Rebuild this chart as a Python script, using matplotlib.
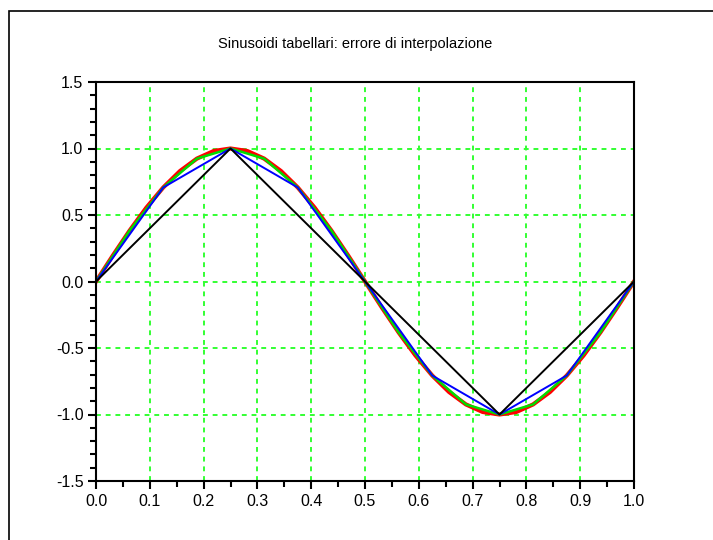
import numpy as np
import matplotlib.pyplot as plt
from matplotlib.patches import Rectangle
from matplotlib.ticker import MultipleLocator

plt.rcParams['font.family'] = ['Liberation Sans', 'DejaVu Sans']

# Tabelle di seno con 4, 8, 16 e 32 campioni per periodo
tab4 = [0.0, 1.0, 0.0, -1.0, 0.0]
tab8 = [0.0, 0.707, 1.0, 0.707, 0.0, -0.707, -1.0, -0.707, 0.0]
tab16 = [0.0, 0.383, 0.707, 0.924, 1.0, 0.924, 0.707, 0.383, 0.0,
         -0.383, -0.707, -0.924, -1.0, -0.924, -0.707, -0.383, 0.0]
tab32 = [0.0, 0.195, 0.383, 0.556, 0.707, 0.831, 0.924, 0.981, 1.0,
         0.981, 0.924, 0.831, 0.707, 0.556, 0.383, 0.195, 0.0,
         -0.195, -0.383, -0.556, -0.707, -0.831, -0.924, -0.981, -1.0,
         -0.981, -0.924, -0.831, -0.707, -0.556, -0.383, -0.195, 0.0]

xticks = [0.0, 0.1, 0.2, 0.3, 0.4, 0.5, 0.6, 0.7, 0.8, 0.9, 1.0]
yticks = [-1.5, -1.0, -0.5, 0.0, 0.5, 1.0, 1.5]

fig = plt.figure(figsize=(7.13, 5.40), dpi=100)
ax = fig.add_axes([96 / 713, 59 / 540, 538 / 713, 399 / 540])

# cornice della finestra grafica
fig.patches.append(Rectangle((9 / 713, -0.1), 1.2, 1 - 11 / 540 + 0.1,
                             transform=fig.transFigure, fill=False,
                             edgecolor='black', linewidth=1.2))

def fase(tab):
    return np.linspace(0, 1, len(tab))

ax.plot(fase(tab32), tab32, color='red', linewidth=3.0)
ax.plot(fase(tab16), tab16, color='#00dd00', linewidth=1.8)
ax.plot(fase(tab8), tab8, color='blue', linewidth=1.4)
ax.plot(fase(tab4), tab4, color='black', linewidth=1.4)

ax.set_xlim(0, 1)
ax.set_ylim(-1.5, 1.5)
ax.set_xticks(xticks)
ax.set_yticks(yticks)
ax.set_xticklabels([f"{v:.1f}" for v in xticks])
ax.set_yticklabels([f"{v:.1f}" for v in yticks])
ax.xaxis.set_minor_locator(MultipleLocator(0.05))
ax.yaxis.set_minor_locator(MultipleLocator(0.1))
ax.tick_params(which='major', direction='out', length=6, width=1.5,
               labelsize=11.5, pad=3, top=False, right=False)
ax.tick_params(which='minor', direction='out', length=4, width=1.5,
               top=False, right=False)
ax.set_axisbelow(True)
ax.grid(True, which='major', color='#33ff33', linestyle=(0, (2.5, 2.5)),
        linewidth=1.4)
for s in ax.spines.values():
    s.set_linewidth(1.5)

fig.text(355 / 713, 1 - 44 / 540, "Sinusoidi tabellari: errore di interpolazione",
         ha='center', va='center', fontsize=10.5)

plt.savefig("out.png", dpi=100)
